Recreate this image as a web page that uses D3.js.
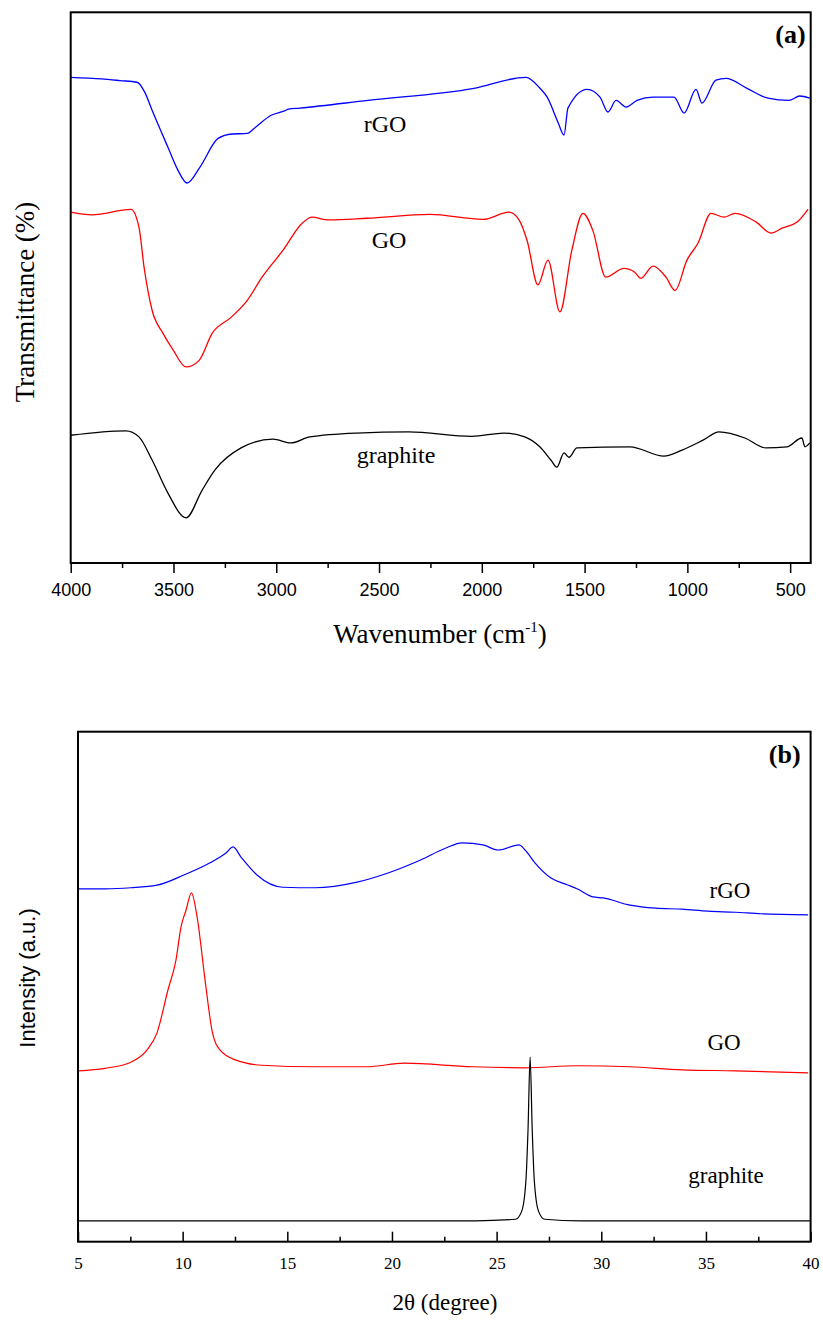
<!DOCTYPE html>
<html>
<head>
<meta charset="utf-8">
<script src="https://cdn.jsdelivr.net/npm/d3@7"></script>
<style>
  body { margin: 0; background: #fff; }
  svg { display: block; }
</style>
</head>
<body>
<div id="my_dataviz"></div>
<script>
// ---- data ----
// (a) FTIR: wavenumber (cm-1) and transmittance (arbitrary, offset per curve)
var rgoIrWn = [4000,3850,3760,3677,3640,3604,3527,3478,3434,3371,3283,3215,3141,3102,3025,2960,2940,2885,2554,2038,1785,1717,1682,1629,1600,1581,1488,1425,1386,1347,1298,1245,1167,1065,1016,958,929,861,812,710,608,506,453,404];
var rgoIrT  = [88.2,87.9,87.6,87.3,85.5,82.2,75.5,71.3,69.0,71.9,77.1,77.9,78.0,79.1,81.3,82.1,82.4,82.6,84.0,86.2,88.2,86.2,84.6,80.0,77.7,82.6,86.0,84.6,81.9,84.0,82.8,84.0,84.6,84.6,81.7,86.0,83.5,87.7,88.0,86.2,84.4,84.0,84.8,84.4];

var goIrWn = [4000,3896,3707,3668,3643,3604,3551,3502,3439,3375,3312,3220,3141,3069,2967,2874,2826,2748,2558,2252,1994,1868,1819,1780,1727,1678,1620,1562,1508,1460,1397,1309,1256,1226,1167,1104,1060,1002,948,885,822,768,665,593,539,466,413];
var goIrT  = [63.7,63.2,64.2,61.0,53.7,45.9,41.7,38.7,35.6,36.8,41.7,44.6,47.7,51.9,56.8,61.7,62.8,62.3,62.6,63.3,62.4,63.7,62.3,58.6,50.5,55.0,45.6,56.8,63.5,60.4,51.9,53.5,52.8,51.7,53.9,51.9,49.5,55.0,58.1,63.5,62.8,63.5,61.9,59.9,60.8,61.9,64.2];

var grIrWn = [4000,3731,3668,3604,3527,3439,3361,3298,3171,3016,2929,2837,2608,2355,2049,1893,1791,1718,1664,1635,1600,1576,1537,1279,1114,1026,924,846,720,618,516,443,428,404];
var grIrT  = [23.2,24.0,22.9,18.7,12.7,8.2,13.2,16.9,20.9,22.5,21.8,22.9,23.6,23.8,23.0,23.6,22.9,21.1,18.7,17.4,20.0,19.2,20.9,21.1,19.4,20.5,22.3,23.8,22.7,20.9,21.1,22.7,21.1,21.8];

// (b) XRD: 2theta (degree) and intensity (a.u., offset per curve)
var rgoXrd2t = [5.03,6.3,7.53,8.77,10.06,11.31,12.07,12.41,12.79,13.55,14.79,16.32,18.33,19.81,21.34,22.58,23.35,24.35,25.07,26.07,26.36,26.83,27.6,28.36,28.84,29.6,30.08,31.37,32.6,33.86,35.1,36.39,37.63,39.88];
var rgoXrdI  = [69.2,69.2,69.4,69.9,71.9,74.3,76.2,77.4,75.4,71.9,69.5,69.4,70.5,72.3,74.8,77.2,78.2,77.8,76.8,77.8,76.8,74.3,71.3,70.0,69.2,67.6,67.4,66.0,65.4,65.2,64.8,64.6,64.3,64.1];

var goXrd2t = [5.03,6.29,7.53,8.3,8.77,9.3,9.68,9.92,10.16,10.42,10.69,11.07,11.4,11.78,12.55,13.79,16.32,18.8,20.58,23.82,26.36,28.84,31.37,33.86,36.39,39.88];
var goXrdI  = [33.5,34.0,35.2,37.6,40.9,49.4,55.2,61.7,65.0,68.4,63.7,51.3,41.5,37.6,35.6,34.6,34.3,34.3,35.0,34.3,34.1,34.5,34.3,33.7,33.5,33.1];

var grXrd2t = [5,24.0,25.9,26.2,26.4,26.5,26.6,26.7,26.8,27.0,27.3,29.0,40];
var grXrdI  = [4.1,4.1,4.4,6.0,12.0,22.0,36.2,22.0,12.0,6.0,4.4,4.1,4.1];

// tick values
var irTicks  = d3.range(4000, 499, -250);
var xrdTicks = d3.range(5, 40.01, 2.5);

var serif = "'Liberation Serif','Times New Roman',serif";
var sans  = "'Liberation Sans',Arial,sans-serif";

var svg = d3.select("#my_dataviz")
  .append("svg")
    .attr("width", 823)
    .attr("height", 1321);

svg.append("rect").attr("width", 823).attr("height", 1321).attr("fill", "#fff");

function zip(a, b) { return a.map(function(v, i) { return {x: v, y: b[i]}; }); }

// ================= panel (a) =================
var mA = {left: 70.7, top: 12.3},
    wA = 740, hA = 550.7;

var gA = svg.append("g").attr("transform", "translate(" + mA.left + "," + mA.top + ")");

var xA = d3.scaleLinear().domain([4000, 400]).range([0, wA]);
var yA = d3.scaleLinear().domain([0, 100]).range([hA, 0]);

var lineA = d3.line()
  .curve(d3.curveMonotoneX)
  .x(function(d) { return xA(d.x); })
  .y(function(d) { return yA(d.y); });

[[rgoIrWn, rgoIrT, "#0000ff"], [goIrWn, goIrT, "#ff0000"], [grIrWn, grIrT, "#000"]].forEach(function(s) {
  gA.append("path")
    .datum(zip(s[0], s[1]))
    .attr("fill", "none")
    .attr("stroke", s[2])
    .attr("stroke-width", 1.3)
    .attr("d", lineA);
});

// x axis, ticks pointing out
var axA = gA.append("g")
  .attr("transform", "translate(0," + hA + ")")
  .call(d3.axisBottom(xA).tickValues(irTicks).tickSize(5)
    .tickFormat(function(d) { return d % 500 === 0 ? d : ""; }));
axA.select(".domain").remove();
axA.selectAll(".tick line")
  .attr("y2", function(d) { return d % 500 === 0 ? 10 : 5; })
  .attr("stroke", "#000").attr("stroke-width", 1.5);
axA.selectAll(".tick text")
  .attr("y", 33).attr("dy", 0)
  .style("font-family", sans).style("font-size", "18px").attr("fill", "#000");

// frame
gA.append("rect")
  .attr("width", wA).attr("height", hA)
  .attr("fill", "none").attr("stroke", "#000").attr("stroke-width", 2);

// labels
gA.append("text").attr("x", wA - 5).attr("y", 31).attr("text-anchor", "end")
  .style("font-family", serif).style("font-size", "26px").style("font-weight", "bold").text("(a)");

var labA = [["rGO", 385, 132], ["GO", 389, 248], ["graphite", 396, 463]];
labA.forEach(function(l) {
  svg.append("text").attr("x", l[1]).attr("y", l[2]).attr("text-anchor", "middle")
    .style("font-family", serif).style("font-size", "24px").text(l[0]);
});

var tW = svg.append("text").attr("x", 440).attr("y", 643).attr("text-anchor", "middle")
  .style("font-family", serif).style("font-size", "27px");
tW.append("tspan").text("Wavenumber (cm");
tW.append("tspan").attr("dy", -11).style("font-size", "15px").text("-1");
tW.append("tspan").attr("dy", 11).text(")");

svg.append("text")
  .attr("transform", "translate(34,302) rotate(-90)")
  .attr("text-anchor", "middle")
  .style("font-family", serif).style("font-size", "27px")
  .text("Transmittance (%)");

// ================= panel (b) =================
var mB = {left: 78, top: 731.7},
    wB = 732.6, hB = 510;

var gB = svg.append("g").attr("transform", "translate(" + mB.left + "," + mB.top + ")");

var xB = d3.scaleLinear().domain([5, 40]).range([0, wB]);
var yB = d3.scaleLinear().domain([0, 100]).range([hB, 0]);

var lineB = d3.line()
  .curve(d3.curveMonotoneX)
  .x(function(d) { return xB(d.x); })
  .y(function(d) { return yB(d.y); });

[[rgoXrd2t, rgoXrdI, "#0000ff"], [goXrd2t, goXrdI, "#ff0000"], [grXrd2t, grXrdI, "#000"]].forEach(function(s) {
  gB.append("path")
    .datum(zip(s[0], s[1]))
    .attr("fill", "none")
    .attr("stroke", s[2])
    .attr("stroke-width", 1.2)
    .attr("d", lineB);
});

// x axis, ticks pointing in
var axB = gB.append("g")
  .attr("transform", "translate(0," + hB + ")")
  .call(d3.axisBottom(xB).tickValues(xrdTicks).tickSize(-5)
    .tickFormat(function(d) { return d % 5 === 0 ? d : ""; }));
axB.select(".domain").remove();
axB.selectAll(".tick line")
  .attr("y2", function(d) { return d % 5 === 0 ? -10 : -5; })
  .attr("stroke", "#000").attr("stroke-width", 1.5);
axB.selectAll(".tick text")
  .attr("y", 27).attr("dy", 0)
  .style("font-family", serif).style("font-size", "17px").attr("fill", "#000");

gB.append("rect")
  .attr("width", wB).attr("height", hB)
  .attr("fill", "none").attr("stroke", "#000").attr("stroke-width", 2);

gB.append("text").attr("x", wB - 10).attr("y", 31).attr("text-anchor", "end")
  .style("font-family", serif).style("font-size", "26px").style("font-weight", "bold").text("(b)");

var labB = [["rGO", 730, 898], ["GO", 724, 1050], ["graphite", 726, 1183]];
labB.forEach(function(l) {
  svg.append("text").attr("x", l[1]).attr("y", l[2]).attr("text-anchor", "middle")
    .style("font-family", serif).style("font-size", "23px").text(l[0]);
});

svg.append("text").attr("x", 445).attr("y", 1310).attr("text-anchor", "middle")
  .style("font-family", serif).style("font-size", "23px")
  .text("2\u03b8 (degree)");

svg.append("text")
  .attr("transform", "translate(35,978) rotate(-90)")
  .attr("text-anchor", "middle")
  .style("font-family", sans).style("font-size", "22px")
  .text("Intensity (a.u.)");
</script>
</body>
</html>
